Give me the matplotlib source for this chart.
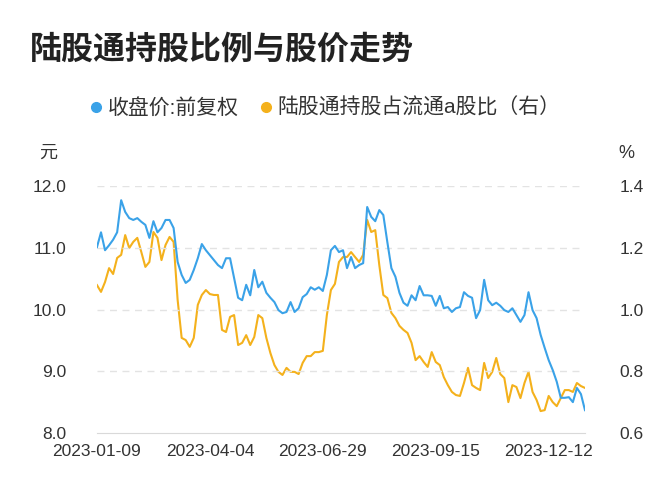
import matplotlib
matplotlib.use("Agg")
import matplotlib.pyplot as plt
from matplotlib.lines import Line2D

plt.rcParams['font.family'] = ['Liberation Sans', 'Noto Sans CJK SC', 'DejaVu Sans']

# 数据（每两个交易日取一点）
tick_labels = ['2023-01-09', '2023-04-04', '2023-06-29', '2023-09-15', '2023-12-12']
tick_pos = [0, 28, 56, 84, 112]

price = [
    11.01, 11.25, 10.96, 11.04, 11.13, 11.25, 11.77, 11.58, 11.48, 11.45,
    11.48, 11.42, 11.37, 11.16, 11.43, 11.25, 11.32, 11.45, 11.45, 11.32,
    10.77, 10.56, 10.43, 10.48, 10.64, 10.83, 11.06, 10.96, 10.88, 10.80,
    10.72, 10.67, 10.83, 10.83, 10.51, 10.19, 10.15, 10.40, 10.23, 10.64,
    10.36, 10.45, 10.27, 10.19, 10.12, 9.99, 9.94, 9.96, 10.12, 9.96,
    10.02, 10.20, 10.25, 10.36, 10.32, 10.36, 10.30, 10.56, 10.96, 11.03,
    10.93, 10.96, 10.67, 10.85, 10.67, 10.72, 10.75, 11.66, 11.50, 11.43,
    11.61, 11.53, 11.09, 10.67, 10.53, 10.27, 10.11, 10.06, 10.23, 10.15,
    10.38, 10.23, 10.23, 10.22, 10.06, 10.22, 10.02, 10.04, 9.96, 10.02,
    10.04, 10.28, 10.22, 10.19, 9.86, 9.99, 10.48, 10.15, 10.07, 10.11,
    10.06, 9.99, 9.96, 10.02, 9.91, 9.80, 9.91, 10.28, 9.99, 9.86,
    9.59, 9.38, 9.18, 9.02, 8.83, 8.57, 8.57, 8.58, 8.50, 8.73,
    8.63, 8.37,
]

ratio = [
    1.079, 1.057, 1.089, 1.134, 1.115, 1.167, 1.177, 1.241, 1.199, 1.219,
    1.232, 1.186, 1.138, 1.154, 1.251, 1.232, 1.160, 1.209, 1.235, 1.219,
    1.031, 0.908, 0.901, 0.879, 0.908, 1.015, 1.047, 1.063, 1.050, 1.047,
    1.047, 0.934, 0.927, 0.976, 0.982, 0.885, 0.892, 0.917, 0.885, 0.911,
    0.982, 0.972, 0.908, 0.859, 0.820, 0.798, 0.788, 0.811, 0.798, 0.798,
    0.791, 0.827, 0.849, 0.849, 0.862, 0.862, 0.866, 0.982, 1.063, 1.083,
    1.154, 1.170, 1.170, 1.186, 1.170, 1.154, 1.177, 1.290, 1.251, 1.257,
    1.144, 1.047, 1.037, 0.989, 0.972, 0.947, 0.934, 0.924, 0.892, 0.836,
    0.849, 0.830, 0.814, 0.862, 0.830, 0.820, 0.781, 0.755, 0.733, 0.723,
    0.720, 0.762, 0.811, 0.755, 0.746, 0.739, 0.827, 0.778, 0.798, 0.843,
    0.791, 0.778, 0.700, 0.755, 0.749, 0.713, 0.762, 0.798, 0.733, 0.707,
    0.671, 0.674, 0.720, 0.700, 0.687, 0.713, 0.739, 0.739, 0.733, 0.762,
    0.752, 0.746,
]

blue = '#3aa2e8'
gold = '#f4b11c'
txt = '#333333'

fig = plt.figure(figsize=(6.72, 5.0), dpi=100)
ax = fig.add_axes([0.1443, 0.134, 0.7262, 0.494])
ax2 = ax.twinx()

x = list(range(len(price)))
ax.plot(x, price, color=blue, lw=1.5, zorder=3)
ax2.plot(x, ratio, color=gold, lw=1.5, zorder=2)
ax.set_zorder(ax2.get_zorder() + 1)
ax.patch.set_visible(False)

ax.set_xlim(0, len(price) - 1)
ax.set_ylim(8.0, 12.0)
ax.set_yticks([8.0, 9.0, 10.0, 11.0, 12.0])
ax.set_yticklabels(['8.0', '9.0', '10.0', '11.0', '12.0'])
ax2.set_ylim(0.6, 1.4)
ax2.set_yticks([0.6, 0.8, 1.0, 1.2, 1.4])
ax2.set_yticklabels(['0.6', '0.8', '1.0', '1.2', '1.4'])
ax.set_xticks(tick_pos)
ax.set_xticklabels(tick_labels)

for a in (ax, ax2):
    for s in a.spines.values():
        s.set_visible(False)
    a.tick_params(length=0, labelsize=12.5, labelcolor=txt)
ax.spines['bottom'].set_visible(True)
ax.spines['bottom'].set_color('#d9d9d9')
ax.tick_params(axis='y', pad=22)
ax.tick_params(axis='x', pad=8)
ax2.tick_params(axis='y', pad=25)

for v in [9.0, 10.0, 11.0, 12.0]:
    ax.axhline(v, color='#e3e3e3', lw=1.0, ls=(0, (5, 4)), zorder=0)

fig.text(0.045, 0.9, '陆股通持股比例与股价走势', fontsize=23, fontweight='bold',
         color='#222222', va='center', ha='left')
fig.text(0.072, 0.694, '元', fontsize=13, color=txt, va='center', ha='center')
fig.text(0.932, 0.694, '%', fontsize=13, color=txt, va='center', ha='center')

handles = [Line2D([], [], ls='none', marker='o', ms=7, color=blue),
           Line2D([], [], ls='none', marker='o', ms=7, color=gold)]
fig.legend(handles, ['收盘价:前复权', '陆股通持股占流通a股比（右）'],
           loc='center', bbox_to_anchor=(0.481, 0.784), ncol=2, frameon=False,
           fontsize=15, handletextpad=0.05, columnspacing=0.8, handlelength=1.0,
           labelcolor=txt)

fig.savefig('out.png', dpi=100)
